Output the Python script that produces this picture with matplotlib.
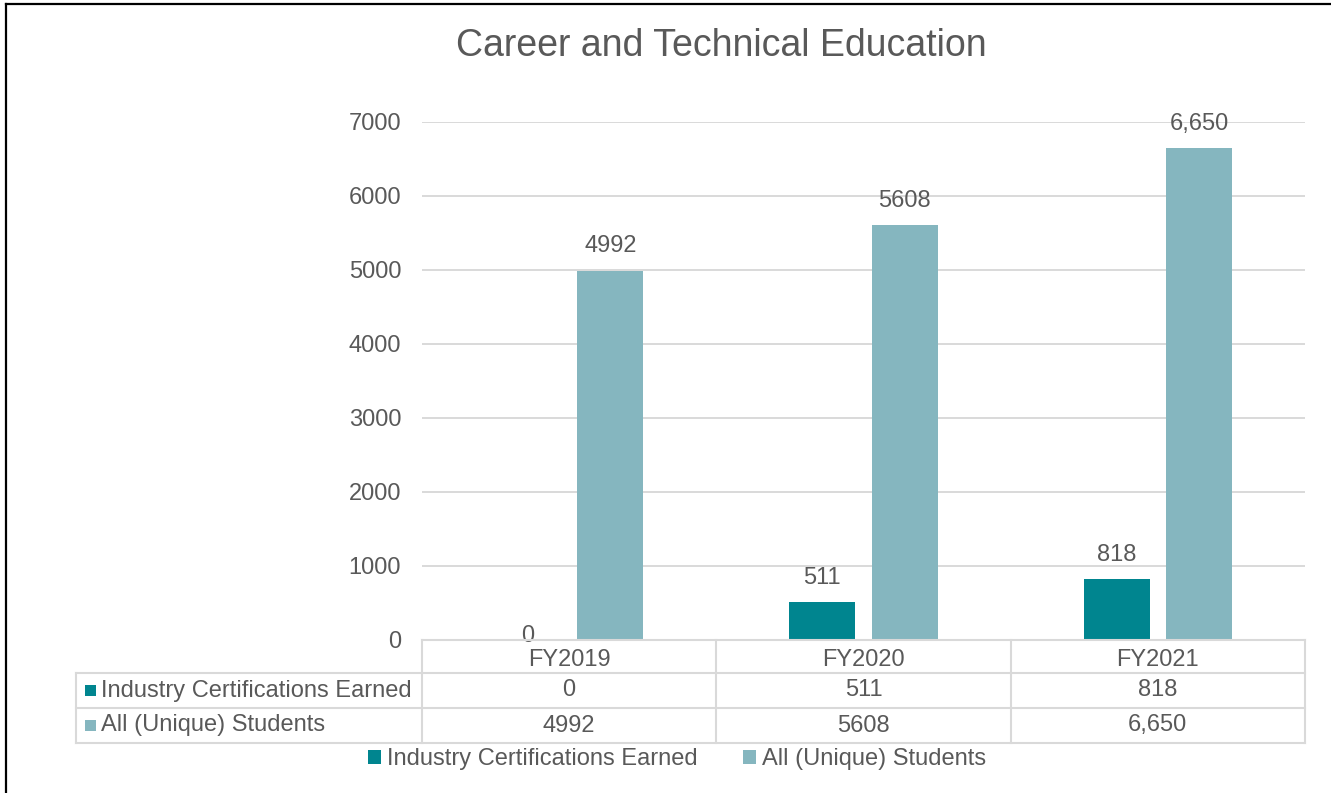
import matplotlib
matplotlib.use("Agg")
import matplotlib.pyplot as plt
from matplotlib.patches import Rectangle, Patch
from matplotlib.lines import Line2D
from matplotlib.transforms import blended_transform_factory

plt.rcParams['font.family'] = ['Liberation Sans', 'DejaVu Sans']

title = "Career and Technical Education"
categories = ["FY2019", "FY2020", "FY2021"]
series_names = ["Industry Certifications Earned", "All (Unique) Students"]
cert_values = [0, 511, 818]
student_values = [4992, 5608, 6650]
cert_labels = ["0", "511", "818"]
student_labels = ["4992", "5608", "6,650"]
yticks = [0, 1000, 2000, 3000, 4000, 5000, 6000, 7000]

C_CERT = "#00858F"
C_STUD = "#85B6BF"
TXT = "#595959"
GRID = "#D9D9D9"
FS = 17

W, H = 1331, 793
fig = plt.figure(figsize=(W / 100, H / 100), dpi=100)

def fx(px):
    return px / W

def fy(py):
    return 1 - py / H

ax = fig.add_axes([fx(422), fy(640), fx(1305) - fx(422), fy(122) - fy(640)])
ax.set_xlim(-0.5, len(categories) - 0.5)
ax.set_ylim(0, 7000)
ax.set_yticks(yticks)
ax.set_yticklabels([str(t) for t in yticks])
ax.tick_params(axis='y', length=0, pad=15, labelsize=FS, labelcolor=TXT)
ax.set_xticks([])
for s in ax.spines.values():
    s.set_visible(False)
ax.grid(axis='y', color=GRID, lw=1.4)
ax.set_axisbelow(True)

bw = 0.224
off = 0.14
xs = list(range(len(categories)))
ax.bar([x - off for x in xs], cert_values, bw, color=C_CERT, zorder=3)
ax.bar([x + off for x in xs], student_values, bw, color=C_STUD, zorder=3)

for x, v, lab in zip(xs, cert_values, cert_labels):
    ax.annotate(lab, (x - off, v), xytext=(0, 17.5 if v > 0 else 3), textcoords='offset points',
                ha='center', va='center', fontsize=FS, color=TXT, zorder=4)
for x, v, lab in zip(xs, student_values, student_labels):
    ax.annotate(lab, (x + off, v), xytext=(0, 17.5 if v > 0 else 3), textcoords='offset points',
                ha='center', va='center', fontsize=FS, color=TXT, zorder=4)

fig.text(fx(721), fy(46), title, ha='center', va='center', fontsize=27, color=TXT)

# data table under the axis
tr = blended_transform_factory(ax.transData, fig.transFigure)
row_y = [fy(640), fy(673), fy(708), fy(743)]
tbl_left = fx(76)
lw_t = 1.5
for y in row_y:
    fig.add_artist(Line2D([fx(422) if y == row_y[0] else tbl_left, fx(1305)], [y, y],
                          transform=fig.transFigure, color=GRID, lw=lw_t))
for i in range(len(categories) + 1):
    fig.add_artist(Line2D([i - 0.5, i - 0.5], [row_y[0], row_y[3]], transform=tr, color=GRID, lw=lw_t))
fig.add_artist(Line2D([tbl_left, tbl_left], [row_y[1], row_y[3]], transform=fig.transFigure, color=GRID, lw=lw_t))

for i, c in enumerate(categories):
    fig.text(i, fy(660), c, transform=tr, ha='center', va='center', fontsize=FS, color=TXT)
    fig.text(i, (row_y[1] + row_y[2]) / 2, cert_labels[i], transform=tr, ha='center', va='center', fontsize=FS, color=TXT)
    fig.text(i, (row_y[2] + row_y[3]) / 2, student_labels[i], transform=tr, ha='center', va='center', fontsize=FS, color=TXT)

for r, (name, col) in enumerate(zip(series_names, [C_CERT, C_STUD])):
    yc = (row_y[r + 1] + row_y[r + 2]) / 2
    fig.add_artist(Rectangle((fx(85), yc - 5.5 / H), 11 / W, 11 / H, transform=fig.transFigure,
                             color=col, lw=0))
    fig.text(fx(101), yc, name, ha='left', va='center', fontsize=FS, color=TXT)

# legend
handles = [Patch(color=C_CERT, lw=0), Patch(color=C_STUD, lw=0)]
fig.legend(handles, series_names, loc='center', bbox_to_anchor=(fx(677), fy(759)), ncol=2,
           frameon=False, fontsize=FS, labelcolor=TXT, handlelength=0.55, handleheight=0.55,
           handletextpad=0.25, columnspacing=1.95, borderpad=0)

# outer frame lines
fig.add_artist(Line2D([fx(5.5), 1], [fy(3.5), fy(3.5)], transform=fig.transFigure, color='black', lw=1.6))
fig.add_artist(Line2D([fx(5.5), fx(5.5)], [0, fy(3.5)], transform=fig.transFigure, color='black', lw=1.6))

fig.savefig("out.png", dpi=100)
